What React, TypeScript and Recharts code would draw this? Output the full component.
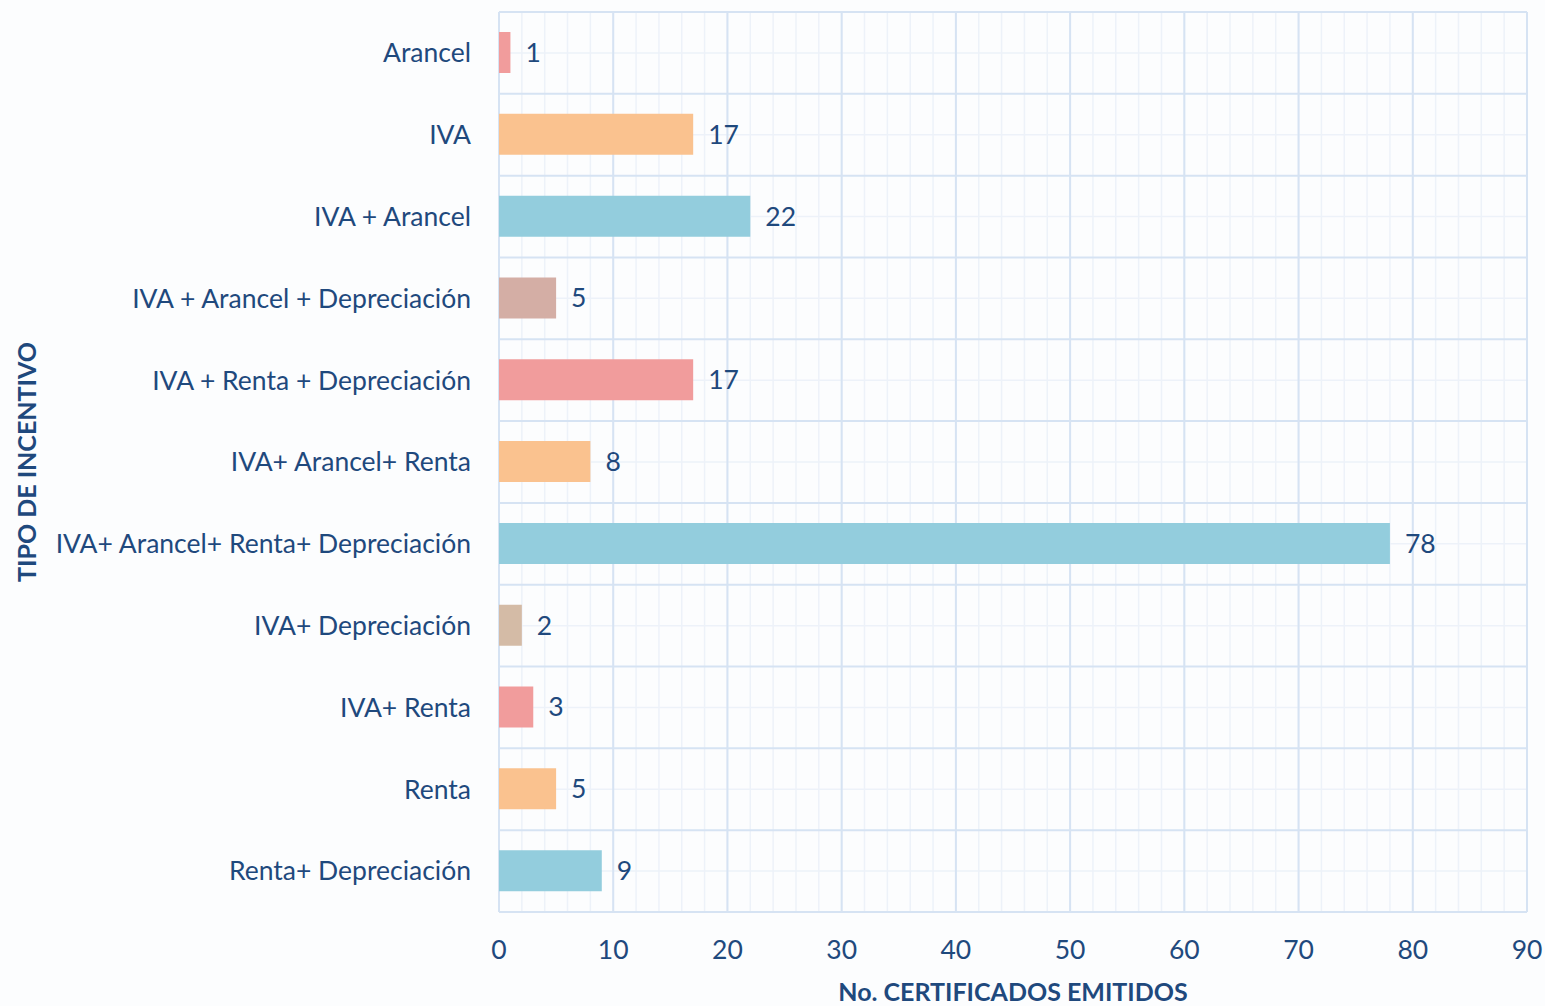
import React from 'react';
import { BarChart, Bar, XAxis, YAxis, CartesianGrid, Cell, LabelList } from 'recharts';

const categories = [
  'Arancel',
  'IVA',
  'IVA + Arancel',
  'IVA + Arancel + Depreciación',
  'IVA + Renta + Depreciación',
  'IVA+ Arancel+ Renta',
  'IVA+ Arancel+ Renta+ Depreciación',
  'IVA+ Depreciación',
  'IVA+ Renta',
  'Renta',
  'Renta+ Depreciación',
];
const values = [1, 17, 22, 5, 17, 8, 78, 2, 3, 5, 9];
const barColors = ['#f19c9c', '#fac28f', '#93cddd', '#d4aea5', '#f19c9c', '#fac28f', '#93cddd', '#d4bba6', '#f19c9c', '#fac28f', '#93cddd'];
const xTicks = [0, 10, 20, 30, 40, 50, 60, 70, 80, 90];
const xMinorTicks = [0, 2, 4, 6, 8, 10, 12, 14, 16, 18, 20, 22, 24, 26, 28, 30, 32, 34, 36, 38, 40, 42, 44, 46, 48, 50, 52, 54, 56, 58, 60, 62, 64, 66, 68, 70, 72, 74, 76, 78, 80, 82, 84, 86, 88, 90];

const data = categories.map((name, i) => ({ name, value: values[i] }));

const TEXT = '#1f497d';
const FONT = 'Lato, "Open Sans", sans-serif';
const FS = 26.5;

// Row boundaries of the category band scale
const rowBoundaryGenerator = (props: any) => {
  const yAxis = props?.yAxis;
  const offset = props?.offset || {};
  const scale = yAxis?.scale;
  if (scale && typeof scale.step === 'function' && typeof scale === 'function') {
    const step = scale.step();
    const starts = categories.map((c) => scale(c) - (step - scale.bandwidth()) / 2);
    if (starts.every((v: number) => Number.isFinite(v))) {
      return [...starts, starts[starts.length - 1] + step];
    }
  }
  const n = categories.length;
  return Array.from({ length: n + 1 }, (_, i) => offset.top + (i * offset.height) / n);
};

export default function App() {
  return (
    <div style={{ position: 'absolute', left: 0, top: 0, width: 1545, height: 1006, background: '#fcfdfe', fontFamily: FONT }}>
      <BarChart
        width={1545}
        height={1006}
        data={data}
        layout="vertical"
        margin={{ top: 12, right: 18, left: 0, bottom: 0 }}
        barCategoryGap={0}
      >
        <XAxis
          type="number"
          dataKey="value"
          domain={[0, 90]}
          ticks={xTicks}
          interval={0}
          axisLine={false}
          tickLine={false}
          tickSize={0}
          tickMargin={28}
          height={94}
          tick={{ fill: TEXT, fontSize: FS, fontFamily: FONT }}
          label={{ value: 'No. CERTIFICADOS EMITIDOS', position: 'insideBottom', offset: 5, fill: TEXT, fontSize: 25, fontWeight: 700, fontFamily: FONT }}
        />
        <XAxis xAxisId="minor" type="number" domain={[0, 90]} allowDataOverflow ticks={xMinorTicks} interval={0} hide />
        <YAxis
          type="category"
          dataKey="name"
          width={499}
          axisLine={false}
          tickLine={false}
          tickSize={0}
          tickMargin={28}
          interval={0}
          tick={{ fill: TEXT, fontSize: FS, fontFamily: FONT }}
          label={{ value: 'TIPO DE INCENTIVO', angle: -90, position: 'insideLeft', offset: 27, fill: TEXT, fontSize: 25, fontWeight: 700, fontFamily: FONT, style: { textAnchor: 'middle' } }}
        />
        <CartesianGrid xAxisId="minor" vertical horizontal={false} stroke="#edf2f9" strokeWidth={1.5} />
        <CartesianGrid horizontal vertical={false} stroke="#edf2f9" strokeWidth={1.5} />
        <CartesianGrid horizontal vertical={false} horizontalCoordinatesGenerator={rowBoundaryGenerator} stroke="#d6e3f3" strokeWidth={2} />
        <CartesianGrid vertical horizontal={false} stroke="#d6e3f3" strokeWidth={2} />
        <Bar dataKey="value" barSize={41} isAnimationActive={false}>
          {data.map((d, i) => (
            <Cell key={d.name} fill={barColors[i]} />
          ))}
          <LabelList dataKey="value" position="right" offset={15} fill={TEXT} fontSize={FS} fontFamily={FONT} />
        </Bar>
      </BarChart>
    </div>
  );
}
